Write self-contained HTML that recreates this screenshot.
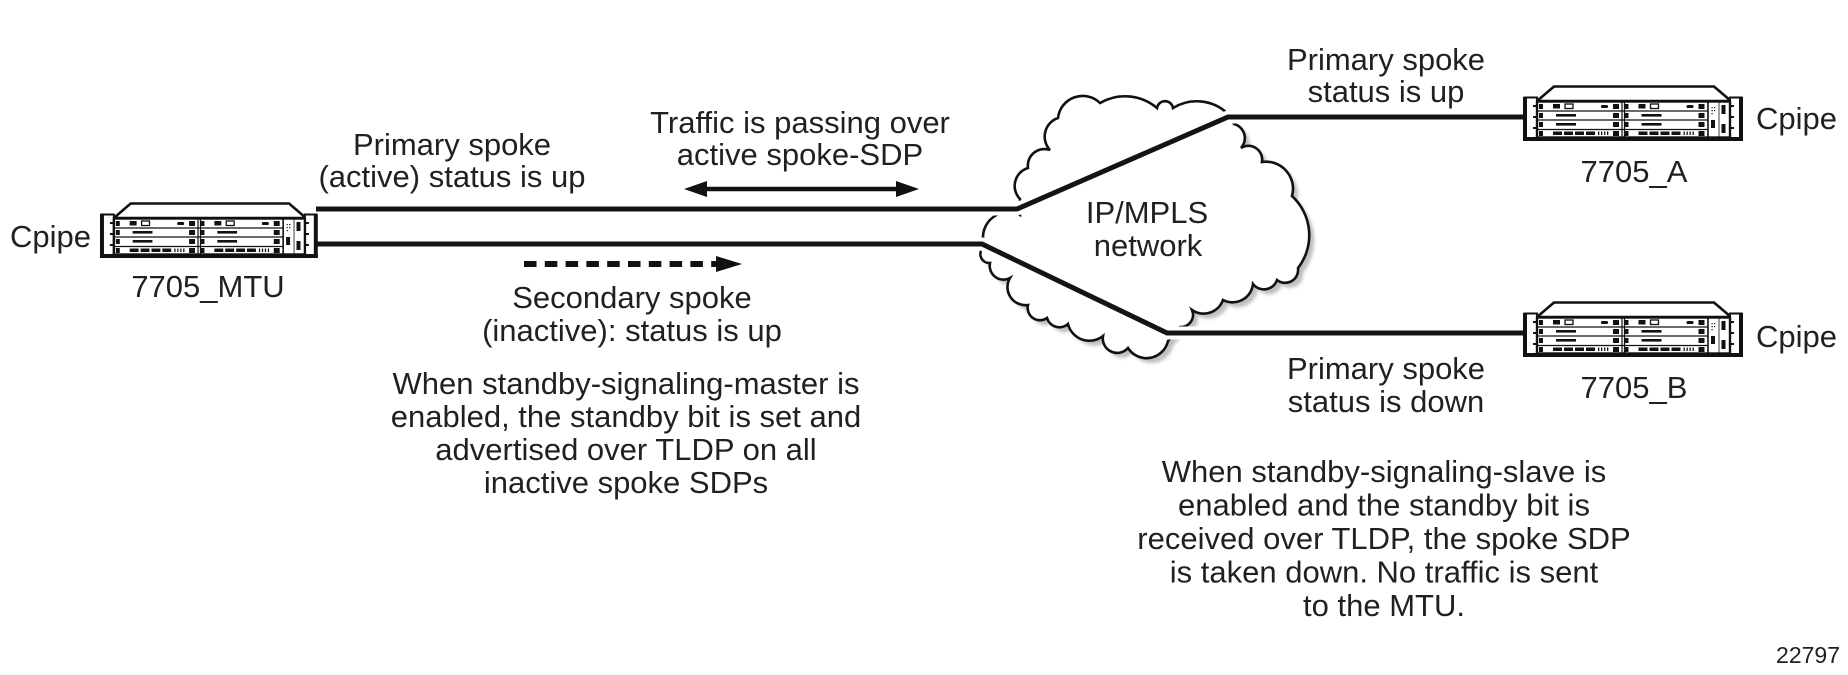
<!DOCTYPE html>
<html>
<head>
<meta charset="utf-8">
<style>
html,body{margin:0;padding:0;background:#fff;}
svg{display:block;}
</style>
</head>
<body>
<svg width="1848" height="675" viewBox="0 0 1848 675" xmlns="http://www.w3.org/2000/svg" font-family="'Liberation Sans', Arial, Helvetica, sans-serif" font-size="31" fill="#231f20">
<defs>
  <filter id="blur" x="-10%" y="-10%" width="120%" height="120%">
    <feGaussianBlur stdDeviation="1.5"/>
  </filter>
  <g id="card">
    <rect x="16" y="19" width="4" height="5" fill="#111"/>
    <rect x="16" y="28" width="4" height="5" fill="#111"/>
    <rect x="16" y="37" width="4" height="5" fill="#111"/>
    <rect x="16" y="46" width="4" height="5" fill="#111"/>
    <rect x="90" y="19" width="6" height="5" fill="#111"/>
    <rect x="90" y="28" width="6" height="5" fill="#111"/>
    <rect x="90" y="37" width="6" height="5" fill="#111"/>
    <rect x="90" y="46" width="6" height="5" fill="#111"/>
    <rect x="30" y="19" width="7" height="4.5" fill="#111"/>
    <rect x="42" y="19" width="8" height="4.5" fill="#fff" stroke="#111" stroke-width="1.3"/>
    <rect x="78" y="20" width="7" height="3" rx="1.3" fill="#111"/>
    <rect x="33" y="29" width="20" height="2.6" fill="#111"/>
    <rect x="33" y="38" width="20" height="2.6" fill="#111"/>
    <rect x="30" y="46.5" width="9" height="3.5" fill="#111"/>
    <rect x="41" y="46.5" width="9" height="3.5" fill="#111"/>
    <rect x="52" y="46.5" width="9" height="3.5" fill="#111"/>
    <rect x="63" y="46.5" width="9" height="3.5" fill="#111"/>
    <rect x="75" y="46.5" width="1.3" height="3.5" fill="#111"/>
    <rect x="78" y="46.5" width="1.3" height="3.5" fill="#111"/>
    <rect x="81" y="46.5" width="1.3" height="3.5" fill="#111"/>
    <rect x="84" y="46.5" width="1.3" height="3.5" fill="#111"/>
  </g>
  <g id="dev">
    <polygon points="14,16 31,1.5 191,1.5 208,16" fill="#fff" stroke="#111" stroke-width="2.6"/>
    <rect x="1.5" y="12.5" width="12.5" height="41" fill="#fff" stroke="#111" stroke-width="2"/>
    <rect x="0" y="12" width="4" height="44" fill="#111"/>
    <rect x="10" y="20" width="4" height="2" fill="#111"/>
    <rect x="10" y="31" width="4" height="2" fill="#111"/>
    <rect x="10" y="42" width="4" height="2" fill="#111"/>
    <rect x="207" y="12.5" width="11.5" height="41" fill="#fff" stroke="#111" stroke-width="2"/>
    <rect x="216" y="12" width="4" height="44" fill="#111"/>
    <rect x="207" y="20" width="4" height="2" fill="#111"/>
    <rect x="207" y="31" width="4" height="2" fill="#111"/>
    <rect x="207" y="42" width="4" height="2" fill="#111"/>
    <rect x="14" y="16.5" width="193" height="36" fill="#fff" stroke="#111" stroke-width="2.4"/>
    <path d="M14 26H185 M14 35H185 M14 44.5H185" stroke="#111" stroke-width="1.3" fill="none"/>
    <path d="M99 16V53 M101.5 16V53" stroke="#111" stroke-width="1.2" fill="none"/>
    <path d="M185 16V53" stroke="#111" stroke-width="1.6" fill="none"/>
    <path d="M196 16V53" stroke="#111" stroke-width="0.8" fill="none"/>
    <use href="#card"/>
    <use href="#card" transform="translate(85.5,0)"/>
    <rect x="198.5" y="20" width="4" height="9" fill="#111"/>
    <rect x="198.5" y="39" width="4" height="9" fill="#111"/>
    <rect x="188" y="35" width="4" height="8" fill="#111"/>
    <rect x="188.5" y="22" width="1.2" height="1.2" fill="#111"/>
    <rect x="191" y="22" width="1.2" height="1.2" fill="#111"/>
    <rect x="188.5" y="25" width="1.2" height="1.2" fill="#111"/>
    <rect x="191" y="25" width="1.2" height="1.2" fill="#111"/>
    <rect x="188.5" y="28" width="1.2" height="1.2" fill="#111"/>
    <rect x="0" y="52" width="220" height="4" fill="#111"/>
  </g>
</defs>

<path transform="translate(5,5)" fill="#c0c0c0" filter="url(#blur)" d="M1020,199 A18.7,18.7 0 0 1 1028,168 A16.6,16.6 0 0 1 1050,150 A19.6,19.6 0 0 1 1058,118 A24.8,24.8 0 0 1 1100,103 A49.6,49.6 0 0 1 1157,108 A8.1,8.1 0 0 1 1173,108 A45,45 0 0 1 1227,113 L1234,124 A14.6,14.6 0 0 1 1241,148 A13.8,13.8 0 0 1 1262,162 A27,27 0 0 1 1292,196 A53.3,53.3 0 0 1 1298,268 A13,13 0 0 1 1277,280 A13.8,13.8 0 0 1 1253,284 A20.6,20.6 0 0 1 1223,300 A20.6,20.6 0 0 1 1192,310 A12.2,12.2 0 0 1 1180,327 L1168,341 A22,22 0 0 1 1128,348 A14.4,14.4 0 0 1 1103,336 A22,22 0 0 1 1068,324 A13,13 0 0 1 1047,318 A12.3,12.3 0 0 1 1028,305 A18,18 0 0 1 1010,278 A13.8,13.8 0 0 1 990,263 A8.9,8.9 0 0 1 982,249 L983,237 A25.3,25.3 0 0 1 1020,215 Z"/>
<path fill="#fff" stroke="#111" stroke-width="2.6" stroke-linejoin="miter" d="M1020,199 A18.7,18.7 0 0 1 1028,168 A16.6,16.6 0 0 1 1050,150 A19.6,19.6 0 0 1 1058,118 A24.8,24.8 0 0 1 1100,103 A49.6,49.6 0 0 1 1157,108 A8.1,8.1 0 0 1 1173,108 A45,45 0 0 1 1227,113 L1234,124 A14.6,14.6 0 0 1 1241,148 A13.8,13.8 0 0 1 1262,162 A27,27 0 0 1 1292,196 A53.3,53.3 0 0 1 1298,268 A13,13 0 0 1 1277,280 A13.8,13.8 0 0 1 1253,284 A20.6,20.6 0 0 1 1223,300 A20.6,20.6 0 0 1 1192,310 A12.2,12.2 0 0 1 1180,327 L1168,341 A22,22 0 0 1 1128,348 A14.4,14.4 0 0 1 1103,336 A22,22 0 0 1 1068,324 A13,13 0 0 1 1047,318 A12.3,12.3 0 0 1 1028,305 A18,18 0 0 1 1010,278 A13.8,13.8 0 0 1 990,263 A8.9,8.9 0 0 1 982,249 L983,237 A25.3,25.3 0 0 1 1020,215 Z"/>

<path d="M960,209 L1017,209 L1228,117 L1290,117" stroke="#fff" stroke-width="13" fill="none"/>
<path d="M960,244 L982,244 L1167,333 L1290,333" stroke="#fff" stroke-width="13" fill="none"/>

<path d="M316,209 L1017,209 L1228,117 L1525,117" stroke="#141414" stroke-width="5" fill="none" stroke-linejoin="miter"/>
<path d="M316,244 L982,244 L1167,333 L1525,333" stroke="#141414" stroke-width="5" fill="none" stroke-linejoin="miter"/>

<line x1="700" y1="189" x2="903" y2="189" stroke="#111" stroke-width="4.5"/>
<polygon points="684,189 707,181 707,197" fill="#111"/>
<polygon points="919,189 896,181 896,197" fill="#111"/>

<line x1="524" y1="264" x2="720" y2="264" stroke="#111" stroke-width="6" stroke-dasharray="12.5 8.3"/>
<polygon points="742,264 716,256 716,272" fill="#111"/>

<use href="#dev" transform="translate(100,202) scale(0.99,1)"/>
<use href="#dev" transform="translate(1523,85)"/>
<use href="#dev" transform="translate(1523,301)"/>

<text x="10" y="247">Cpipe</text>
<text x="208" y="297" text-anchor="middle">7705_MTU</text>

<text x="452" y="155" text-anchor="middle">Primary spoke</text>
<text x="452" y="187" text-anchor="middle">(active) status is up</text>

<text x="800" y="133" text-anchor="middle">Traffic is passing over</text>
<text x="800" y="165" text-anchor="middle">active spoke-SDP</text>

<text x="632" y="308" text-anchor="middle">Secondary spoke</text>
<text x="632" y="341" text-anchor="middle">(inactive): status is up</text>

<text x="626" y="394" text-anchor="middle">When standby-signaling-master is</text>
<text x="626" y="427" text-anchor="middle">enabled, the standby bit is set and</text>
<text x="626" y="460" text-anchor="middle">advertised over TLDP on all</text>
<text x="626" y="493" text-anchor="middle">inactive spoke SDPs</text>

<text x="1147" y="223" text-anchor="middle">IP/MPLS</text>
<text x="1148" y="256" text-anchor="middle">network</text>

<text x="1386" y="70" text-anchor="middle">Primary spoke</text>
<text x="1386" y="102" text-anchor="middle">status is up</text>

<text x="1634" y="182" text-anchor="middle">7705_A</text>
<text x="1756" y="129">Cpipe</text>

<text x="1756" y="347">Cpipe</text>
<text x="1634" y="398" text-anchor="middle">7705_B</text>

<text x="1386" y="379" text-anchor="middle">Primary spoke</text>
<text x="1386" y="412" text-anchor="middle">status is down</text>

<text x="1384" y="482" text-anchor="middle">When standby-signaling-slave is</text>
<text x="1384" y="515.5" text-anchor="middle">enabled and the standby bit is</text>
<text x="1384" y="549" text-anchor="middle">received over TLDP, the spoke SDP</text>
<text x="1384" y="582.5" text-anchor="middle">is taken down. No traffic is sent</text>
<text x="1384" y="616" text-anchor="middle">to the MTU.</text>

<text x="1840" y="663" text-anchor="end" font-size="23">22797</text>
</svg>
</body>
</html>
